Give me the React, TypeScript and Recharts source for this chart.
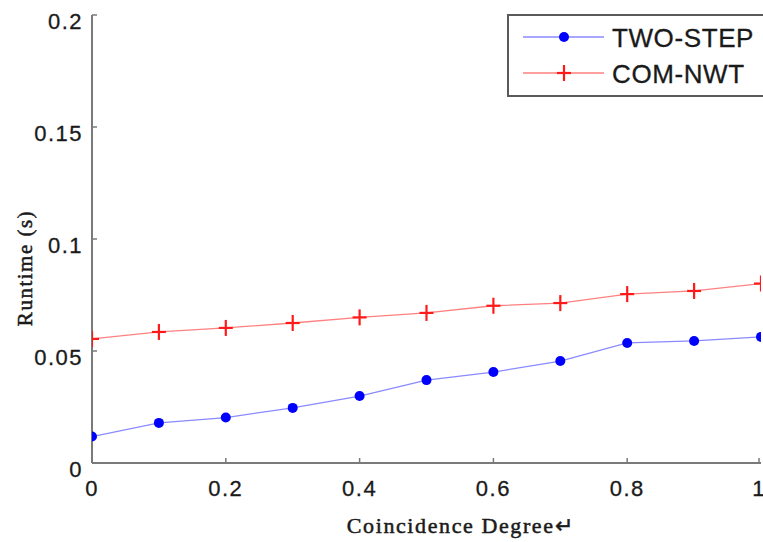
import React from 'react';
import { LineChart, Line, XAxis, YAxis, Legend } from 'recharts';

const degrees = [0, 0.1, 0.2, 0.3, 0.4, 0.5, 0.6, 0.7, 0.8, 0.9, 1];
const twoStep = [0.0118, 0.0179, 0.0203, 0.0246, 0.0299, 0.037, 0.0406, 0.0455, 0.0536, 0.0545, 0.0563];
const comNwt = [0.0554, 0.0585, 0.0603, 0.0625, 0.065, 0.067, 0.0702, 0.0714, 0.0754, 0.0768, 0.0801];
const xTicks = [0, 0.2, 0.4, 0.6, 0.8, 1];
const yTicks = [0, 0.05, 0.1, 0.15, 0.2];
const seriesNames = ['TWO-STEP', 'COM-NWT'];
const xTitle = 'Coincidence Degree\u21B5';
const yTitle = 'Runtime (s)';

const data = degrees.map((d, i) => ({ x: d, two: twoStep[i], com: comNwt[i] }));

const AXIS = '#7a7a7a';
const BLUE_LINE = '#8a8aff';
const RED_LINE = '#ff8080';
const TICK_FONT = '"Liberation Sans", Arial, sans-serif';
const SERIF = '"Liberation Serif", "Times New Roman", serif';
const TL = 5;

const BottomTick = (props: any) => {
  const { x, y, payload } = props;
  const ay = y - 12;
  return (
    <g>
      <line x1={x} y1={ay} x2={x} y2={ay - TL} stroke={AXIS} strokeWidth={1.5} />
      <text x={x} y={ay + 33} textAnchor="middle" fontFamily={TICK_FONT} fontSize={22} letterSpacing={1.5}
        fill="#1a1a1a" stroke="#1a1a1a" strokeWidth={0.3}>
        {String(payload.value)}
      </text>
    </g>
  );
};

const TopTick = (props: any) => {
  const { x, y } = props;
  return <line x1={x} y1={y} x2={x} y2={y + TL} stroke={AXIS} strokeWidth={1.5} />;
};

const LeftTick = (props: any) => {
  const { x, y, payload } = props;
  const ax = x + 8;
  return (
    <g>
      <line x1={ax} y1={y} x2={ax + TL} y2={y} stroke={AXIS} strokeWidth={1.5} />
      <text x={ax - 9} y={y + 14} textAnchor="end" fontFamily={TICK_FONT} fontSize={22} letterSpacing={1.5}
        fill="#1a1a1a" stroke="#1a1a1a" strokeWidth={0.3}>
        {String(payload.value)}
      </text>
    </g>
  );
};

const RightTick = (props: any) => {
  const { x, y } = props;
  return <line x1={x} y1={y} x2={x - TL} y2={y} stroke={AXIS} strokeWidth={1.5} />;
};

const PlusDot = (props: any) => {
  const { cx, cy, index } = props;
  if (cx == null || cy == null) return <g key={`p-${index}`} />;
  return (
    <g key={`p-${index}`}>
      <line x1={cx - 7} y1={cy} x2={cx + 7} y2={cy} stroke="#ff1a1a" strokeWidth={2.2} />
      <line x1={cx} y1={cy - 8} x2={cx} y2={cy + 8} stroke="#ff1a1a" strokeWidth={2.2} />
    </g>
  );
};

const CircleDot = (props: any) => {
  const { cx, cy, index } = props;
  if (cx == null || cy == null) return <g key={`c-${index}`} />;
  return <circle key={`c-${index}`} cx={cx} cy={cy} r={5} fill="#0000ff" stroke="none" />;
};

const LegendBox = () => (
  <svg width={258} height={84} style={{ display: 'block' }}>
    <rect x={1} y={1} width={262} height={81} fill="#fff" stroke="#5a5a5a" strokeWidth={2} />
    <line x1={16} y1={23} x2={97} y2={23} stroke={BLUE_LINE} strokeWidth={1.3} />
    <circle cx={57} cy={23} r={5} fill="#0000ff" />
    <text x={105} y={33} fontFamily={TICK_FONT} fontSize={26} letterSpacing={0.6} fill="#1a1a1a"
      stroke="#1a1a1a" strokeWidth={0.3}>{seriesNames[0]}</text>
    <line x1={16} y1={59} x2={97} y2={59} stroke={RED_LINE} strokeWidth={1.3} />
    <line x1={50} y1={59} x2={64} y2={59} stroke="#ff1a1a" strokeWidth={2.2} />
    <line x1={57} y1={51} x2={57} y2={67} stroke="#ff1a1a" strokeWidth={2.2} />
    <text x={105} y={69} fontFamily={TICK_FONT} fontSize={26} letterSpacing={0.6} fill="#1a1a1a"
      stroke="#1a1a1a" strokeWidth={0.3}>{seriesNames[1]}</text>
  </svg>
);

const YTitle = (props: any) => {
  const { viewBox } = props;
  const cx = viewBox.x + 25;
  const cy = viewBox.y + viewBox.height / 2 + 29;
  return (
    <text x={cx} y={cy} transform={`rotate(-90 ${cx} ${cy})`} textAnchor="middle" dominantBaseline="central"
      fontFamily={SERIF} fontSize={21} letterSpacing={1.5} fill="#1a1a1a" stroke="#1a1a1a" strokeWidth={0.5}>
      {yTitle}
    </text>
  );
};

const XTitle = (props: any) => {
  const { viewBox } = props;
  const cx = viewBox.x + viewBox.width / 2 + 34;
  return (
    <text x={cx} y={viewBox.y + 70} textAnchor="middle" fontFamily={SERIF} fontSize={22}
      letterSpacing={1.6} fill="#1a1a1a" stroke="#1a1a1a" strokeWidth={0.5}>
      {xTitle}
    </text>
  );
};

export default function App() {
  return (
    <div style={{ position: 'absolute', left: 0, top: 0, width: 763, height: 542, background: '#fff' }}>
      <LineChart width={763} height={542} data={data} margin={{ top: 15, right: 2, bottom: 39, left: 0 }}>
        <XAxis dataKey="x" type="number" domain={[0, 1]} ticks={xTicks} allowDataOverflow
          height={40} tickSize={0} tickMargin={12} tick={<BottomTick />}
          axisLine={{ stroke: AXIS, strokeWidth: 2 }} tickLine={false}
          label={<XTitle />} />
        <XAxis xAxisId="top" orientation="top" dataKey="x" type="number" domain={[0, 1]} ticks={xTicks} allowDataOverflow
          height={0} tickSize={0} tickMargin={0} tick={<TopTick />}
          axisLine={{ stroke: AXIS, strokeWidth: 2 }} tickLine={false} />
        <YAxis type="number" domain={[0, 0.2]} ticks={yTicks} allowDataOverflow width={92}
          tickSize={0} tickMargin={8} tick={<LeftTick />}
          axisLine={{ stroke: AXIS, strokeWidth: 2 }} tickLine={false}
          label={<YTitle />} />
        <YAxis yAxisId="right" orientation="right" type="number" domain={[0, 0.2]} ticks={yTicks} allowDataOverflow width={0}
          tickSize={0} tickMargin={0} tick={<RightTick />}
          axisLine={{ stroke: AXIS, strokeWidth: 2 }} tickLine={false} />
        <Legend layout="horizontal" verticalAlign="middle" align="center" content={<LegendBox />}
          wrapperStyle={{ left: 507, top: 14, width: 258, height: 84 }} />
        <Line type="linear" dataKey="two" name={seriesNames[0]} stroke={BLUE_LINE} strokeWidth={1.3}
          dot={CircleDot} activeDot={false} isAnimationActive={false} />
        <Line type="linear" dataKey="com" name={seriesNames[1]} stroke={RED_LINE} strokeWidth={1.3}
          dot={PlusDot} activeDot={false} isAnimationActive={false} />
      </LineChart>
    </div>
  );
}
